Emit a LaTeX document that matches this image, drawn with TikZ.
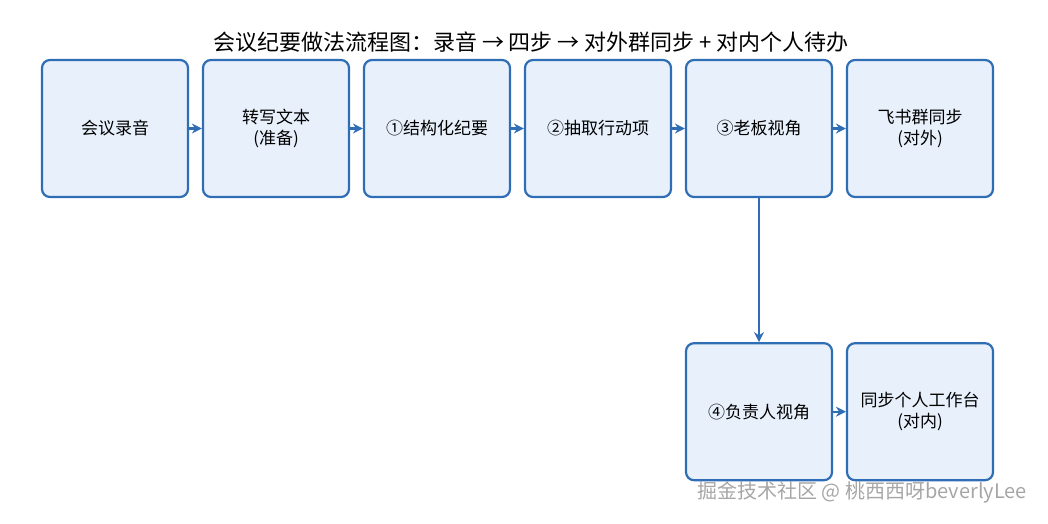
\documentclass[tikz,border=0pt]{standalone}
\usepackage{fontspec}
\setmainfont{Noto Sans CJK SC}
\usetikzlibrary{positioning, arrows.meta}
\definecolor{boxfill}{HTML}{E8F0FB}
\definecolor{boxline}{HTML}{2F6DB5}
\begin{document}
\begin{tikzpicture}[x=1pt, y=1pt,
    stage/.style={draw=boxline, fill=boxfill, line width=1.1pt, rounded corners=4pt,
      minimum width=73pt, minimum height=68.5pt, align=center, inner sep=1pt,
      font=\fontsize{8.5}{10.5}\selectfont},
    link/.style={draw=boxline, line width=1.1pt, -{Stealth[length=5pt, width=5pt]}}]
    \useasboundingbox (0,0) rectangle (524,-262);
    % Title
    \node[font=\fontsize{11}{13}\selectfont] (title) at (265.5,-21) {会议纪要做法流程图：录音 → 四步 → 对外群同步 + 对内个人待办};
    % Top row
    \node[stage] (rec) at (57.5,-64.25) {会议录音};
    \node[stage, right=6.4pt of rec] (txt) {转写文本\\(准备)};
    \node[stage, right=6.4pt of txt] (s1) {①结构化纪要};
    \node[stage, right=6.4pt of s1] (s2) {②抽取行动项};
    \node[stage, right=6.4pt of s2] (s3) {③老板视角};
    \node[stage, right=6.4pt of s3] (fs) {飞书群同步\\(对外)};
    % Bottom row
    \node[stage, below=72pt of s3] (s4) {④负责人视角};
    \node[stage, right=6.4pt of s4] (ws) {同步个人工作台\\(对内)};
    % Connectors
    \draw[link] (rec) -- (txt);
    \draw[link] (txt) -- (s1);
    \draw[link] (s1) -- (s2);
    \draw[link] (s2) -- (s3);
    \draw[link] (s3) -- (fs);
    \draw[link] (s3) -- (s4);
    \draw[link] (s4) -- (ws);
    % Watermark
    \node[text=gray!70, font=\fontsize{10}{12}\selectfont, anchor=east] (mark) at (517,-246) {掘金技术社区 @ 桃西西呀beverlyLee};
\end{tikzpicture}
\end{document}
